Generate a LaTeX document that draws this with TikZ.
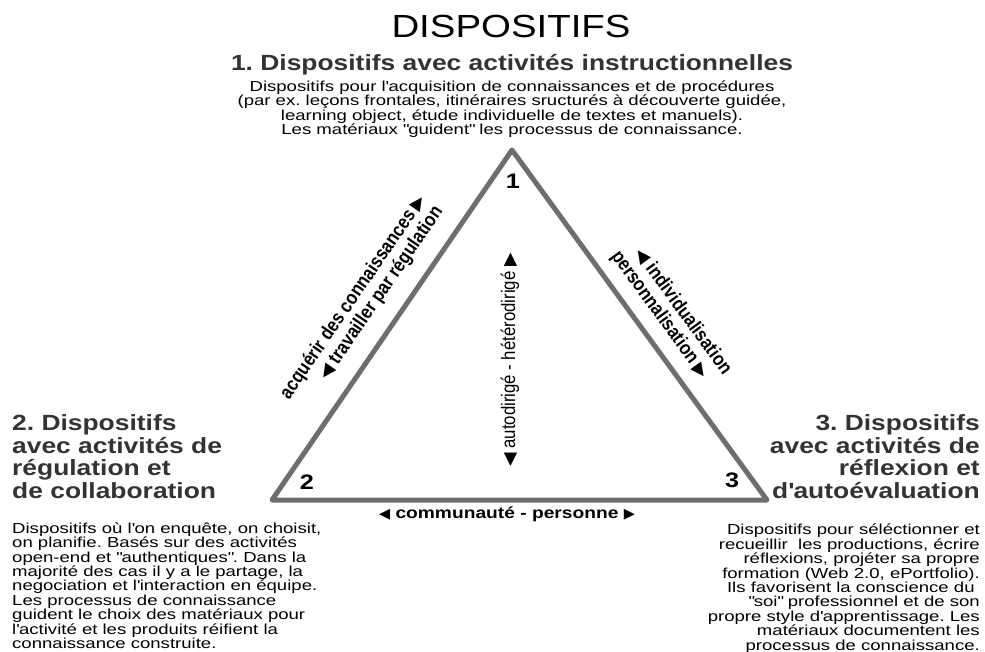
\documentclass[tikz,border=0pt]{standalone}
\usepackage{fontspec}
\usepackage{graphicx}
\setmainfont{Liberation Sans}[FakeStretch=1.2]
\newfontfamily\corps{Liberation Sans}[FakeStretch=1.28]
\newfontfamily\etroit{Liberation Sans}[FakeStretch=0.86]
\newfontfamily\symb{DejaVu Sans}
\definecolor{grisbord}{HTML}{6E6E6E}
\definecolor{grisfonce}{HTML}{333333}
\newcommand{\ap}{\textquotesingle}
\newcommand{\gu}{\textquotedbl}
\newcommand{\fg}{\scalebox{0.9}{\symb ◀}}
\newcommand{\fd}{\scalebox{0.9}{\symb ▶}}
\newcommand{\serre}{\lineskiplimit=-20pt\relax}
\frenchspacing

\begin{document}
\begin{tikzpicture}[x=1pt, y=-1pt, line join=round, line cap=round,
	titre/.style={font=\fontsize{32}{36}\selectfont},
	entete/.style={text=grisfonce, inner sep=0, font=\bfseries\fontsize{22}{22.6}\selectfont\serre},
	texte/.style={inner sep=0, font=\corps\fontsize{14.5}{14.4}\selectfont\serre},
	sommet/.style={inner sep=0, font=\bfseries\fontsize{21}{24}\selectfont},
	axe/.style={inner sep=0, font=\etroit\bfseries\fontsize{19.5}{20.5}\selectfont\serre}]
	\useasboundingbox (0,0) rectangle (985,652);
	% titres
	\node[titre, anchor=base] (titre) at (511,38) {DISPOSITIFS};
	\node[entete, anchor=base] (d1) at (512,71) {1. Dispositifs avec activités instructionnelles};
	\node[texte, anchor=north, align=center] (t1) at (512,80.5) {Dispositifs pour l\ap acquisition de connaissances et de procédures\\(par ex. leçons frontales, itinéraires sructurés à découverte guidée,\\learning object, étude individuelle de textes et manuels).\\Les matériaux \gu guident\gu{} les processus de connaissance.};
	\node[entete, anchor=north west, align=left] (d2) at (12,414.5) {2. Dispositifs\\avec activités de\\régulation et\\de collaboration};
	\node[entete, anchor=north east, align=right] (d3) at (980,414.5) {3. Dispositifs\\avec activités de\\réflexion et\\d\ap autoévaluation};
	\node[texte, anchor=north west, align=left] (t2) at (12,522.5) {Dispositifs où l\ap on enquête, on choisit,\\on planifie. Basés sur des activités\\open-end et \gu authentiques\gu. Dans la\\majorité des cas il y a le partage, la\\negociation et l\ap interaction en équipe.\\Les processus de connaissance\\guident le choix des matériaux pour\\l\ap activité et les produits réifient la\\connaissance construite.};
	\node[texte, anchor=north east, align=right] (t3) at (980,524) {Dispositifs pour séléctionner et\\recueillir\ \ les productions, écrire\\réflexions, projéter sa propre\\formation (Web 2.0, ePortfolio).\\Ils favorisent la conscience du\ \mbox{}\\\gu soi\gu{} professionnel et de son\\propre style d\ap apprentissage. Les\\matériaux documentent les\\processus de connaissance.};
	% triangle
	\coordinate (s1) at (512,150);
	\coordinate (s2) at (272,500);
	\coordinate (s3) at (767,500);
	\draw[grisbord, line width=5pt] (s1) -- (s2) -- (s3) -- cycle;
	\node[sommet] (n1) at (513,181) {1};
	\node[sommet] (n2) at (307,482) {2};
	\node[sommet] (n3) at (732,480) {3};
	% axes
	\node[axe, rotate=55.6, align=right] (a12) at (362,303) {acquérir des connaissances \fd\\\fg{} travailler par régulation};
	\node[axe, rotate=-53.9, align=left] (a13) at (671,313) {\hspace*{12pt}\fg{} individualisation\\personnalisation \fd};
	\node[axe, rotate=90, font=\etroit\fontsize{19.5}{20}\selectfont] (a1) at (510,360) {\fg{} autodirigé - hétérodirigé \fd};
	\node[anchor=base, inner sep=0, font=\bfseries\fontsize{16}{18}\selectfont] (a23) at (507,518) {\fg{} communauté - personne \fd};
\end{tikzpicture}
\end{document}
